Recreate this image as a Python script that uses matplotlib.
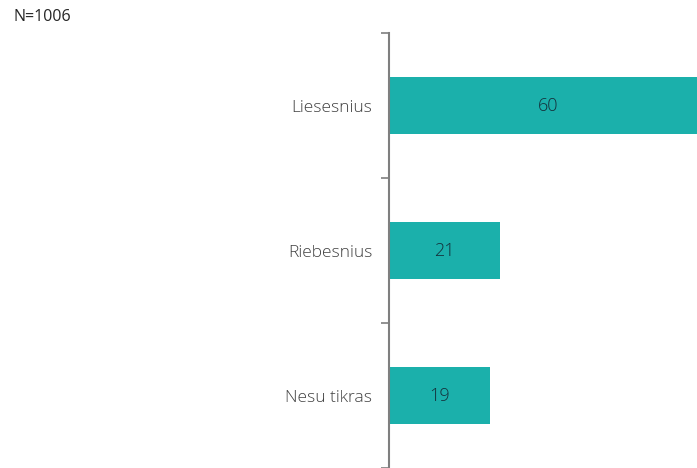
import matplotlib
matplotlib.use('Agg')
from matplotlib import pyplot as plt

CATEGORIES = ['Liesesnius', 'Riebesnius', 'Nesu tikras']
VALUES = [60, 21, 19]
NOTE = 'N=1006'

BAR_COLOR = '#1bb0ab'


def plot(categories, values):
    fig = plt.figure(figsize=(6.97, 4.68), dpi=100)
    ax = fig.add_axes([389 / 697, 0, 1 - 389 / 697, 1 - 33 / 468])

    pos = list(range(len(categories)))
    bars = ax.barh(pos, values, height=0.39, color=BAR_COLOR)
    for bar, v in zip(bars, values):
        ax.text(v / 2, bar.get_y() + bar.get_height() / 2,
                str(v), ha='center', va='center', fontsize=13,
                color='#14303a', family='Open Sans', weight='light')

    ax.set_xlim(0, 58.2)
    ax.set_ylim(len(categories) - 0.5, -0.5)

    ax.set_yticks(pos)
    ax.set_yticklabels(categories, fontsize=12.5, color='#404040',
                       family='Open Sans', weight='light')
    ax.tick_params(axis='y', which='major', length=0, pad=12)
    ax.set_yticks([i - 0.5 for i in range(len(categories) + 1)], minor=True)
    ax.tick_params(axis='y', which='minor', length=6, width=1.2, color='#7f7f7f')
    ax.set_xticks([])

    for side in ['top', 'right', 'bottom']:
        ax.spines[side].set_visible(False)
    ax.spines['left'].set_color('#7f7f7f')
    ax.spines['left'].set_linewidth(1.5)

    fig.text(14 / 697, 1 - 17 / 468, NOTE, fontsize=11.5, color='#262626',
             family='Open Sans', weight='medium', va='center', ha='left')

    fig.savefig('out.png', dpi=100)


if __name__ == '__main__':
    plot(CATEGORIES, VALUES)
